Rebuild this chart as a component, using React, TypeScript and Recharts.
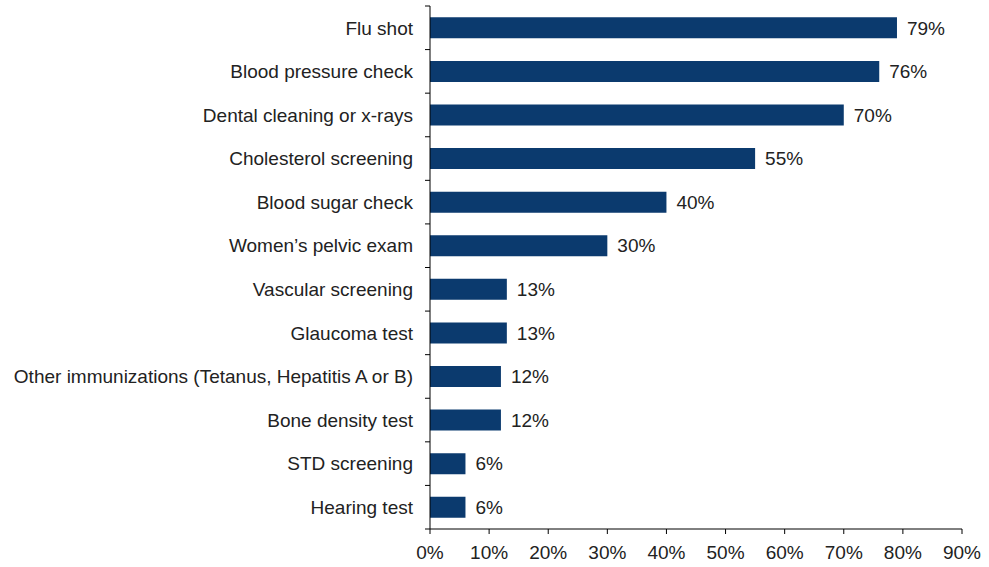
import React from "react";
import { BarChart, Bar, XAxis, YAxis, LabelList } from "recharts";

const categories = [
  "Flu shot",
  "Blood pressure check",
  "Dental cleaning or x-rays",
  "Cholesterol screening",
  "Blood sugar check",
  "Women\u2019s pelvic exam",
  "Vascular screening",
  "Glaucoma test",
  "Other immunizations (Tetanus, Hepatitis A or B)",
  "Bone density test",
  "STD screening",
  "Hearing test",
];
const values = [79, 76, 70, 55, 40, 30, 13, 13, 12, 12, 6, 6];
const xTicks = [0, 10, 20, 30, 40, 50, 60, 70, 80, 90];

const data = categories.map((name, i) => ({ name, value: values[i] }));

const FONT = "'Liberation Sans', Arial, sans-serif";
const TEXT = "#222222";
const BAR = "#0B3A6E";
const FS = 19;
const W = 989;
const H = 567;
const M = { top: 6, right: 27, bottom: 0, left: 0 };
const Y_W = 430;
const X_H = 38;
const TICK_SIZE = 5;
const TICK_MARGIN = 12;

const plotH = H - M.top - M.bottom - X_H;
const fallbackHalf = plotH / categories.length / 2;

const YTick = (props: any) => {
  const { x, y, payload, index } = props;
  const half = payload && typeof payload.offset === "number" && payload.offset > 0 ? payload.offset : fallbackHalf;
  const ax = x + TICK_SIZE + TICK_MARGIN;
  return (
    <g>
      <text x={x} y={y} dy="0.355em" textAnchor="end" fill={TEXT} fontSize={FS} fontFamily={FONT}>
        {payload.value}
      </text>
      <line x1={ax - TICK_SIZE} x2={ax} y1={y - half} y2={y - half} stroke="#000" strokeWidth={1} />
      {index === categories.length - 1 ? (
        <line x1={ax - TICK_SIZE} x2={ax} y1={y + half} y2={y + half} stroke="#000" strokeWidth={1} />
      ) : null}
    </g>
  );
};

export default function App() {
  return (
    <div style={{ position: "absolute", left: 0, top: 0, background: "#fff" }}>
      <BarChart
        width={W}
        height={H}
        data={data}
        layout="vertical"
        margin={M}
        barCategoryGap="26%"
      >
        <XAxis
          type="number"
          domain={[0, 90]}
          ticks={xTicks}
          tickFormatter={(v: number) => `${v}%`}
          height={X_H}
          stroke="#000"
          tickSize={5}
          tickMargin={12}
          tick={{ fill: TEXT, fontSize: FS, fontFamily: FONT }}
          interval={0}
        />
        <YAxis
          type="category"
          dataKey="name"
          width={Y_W}
          stroke="#000"
          tickLine={false}
          tickSize={TICK_SIZE}
          tickMargin={TICK_MARGIN}
          tick={<YTick />}
          interval={0}
        />
        <Bar dataKey="value" fill={BAR} isAnimationActive={false}>
          <LabelList
            dataKey="value"
            position="right"
            offset={10}
            formatter={(v: any) => `${v}%`}
            fill={TEXT}
            fontSize={FS}
            fontFamily={FONT}
          />
        </Bar>
      </BarChart>
    </div>
  );
}
